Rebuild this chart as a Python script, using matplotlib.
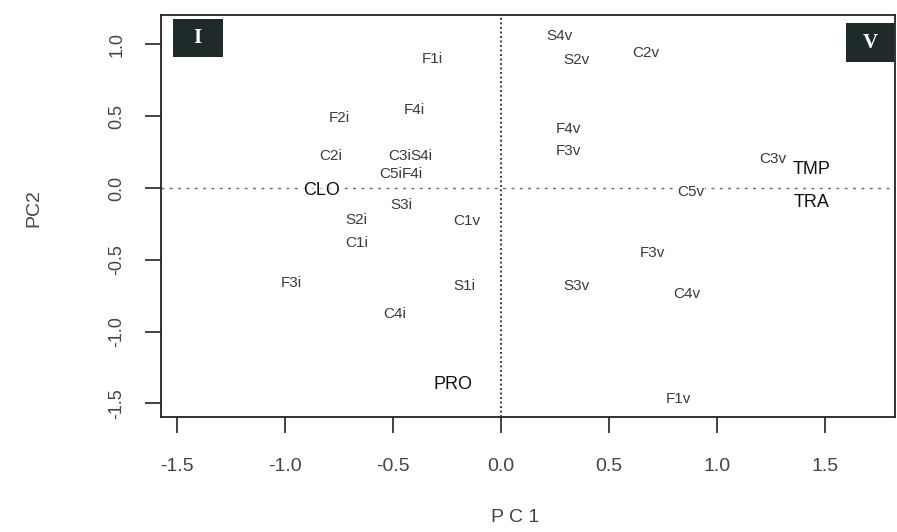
import matplotlib
matplotlib.use("Agg")
import matplotlib.pyplot as plt
from matplotlib.patches import Rectangle

plt.rcParams["font.family"] = ["Liberation Sans", "DejaVu Sans"]

# sample scores (small grey labels)
obs_names = ["F1i", "F2i", "F4i", "C2i", "C3i", "S4i", "C5i", "F4i", "S3i",
             "S2i", "C1i", "C1v", "F3i", "S1i", "C4i",
             "S4v", "S2v", "C2v", "F4v", "F3v", "C3v", "C5v",
             "F3v", "S3v", "C4v", "F1v"]
obs_pc1 = [-0.32, -0.75, -0.40, -0.79, -0.47, -0.37, -0.51, -0.41, -0.46,
           -0.67, -0.67, -0.16, -0.97, -0.17, -0.49,
           0.27, 0.35, 0.67, 0.31, 0.31, 1.26, 0.88,
           0.70, 0.35, 0.86, 0.82]
obs_pc2 = [0.90, 0.49, 0.54, 0.22, 0.22, 0.22, 0.10, 0.10, -0.12,
           -0.22, -0.38, -0.23, -0.66, -0.68, -0.88,
           1.06, 0.89, 0.94, 0.41, 0.26, 0.20, -0.03,
           -0.45, -0.68, -0.74, -1.47]

# variable loadings (bigger black labels)
var_names = ["CLO", "TMP", "TRA", "PRO"]
var_pc1 = [-0.83, 1.44, 1.44, -0.22]
var_pc2 = [-0.02, 0.13, -0.10, -1.37]

xticks = [-1.5, -1.0, -0.5, 0.0, 0.5, 1.0, 1.5]
yticks = [-1.5, -1.0, -0.5, 0.0, 0.5, 1.0]

fig = plt.figure(figsize=(8.97, 5.32), dpi=100)
ax = fig.add_axes([161 / 897, 1 - 417 / 532, (895 - 161) / 897, (417 - 15) / 532])

ax.axhline(0, color="#666666", lw=1.0, ls=(0, (2, 4)), zorder=1)
ax.axvline(0, color="#222222", lw=1.3, ls=(0, (1, 1.5)), zorder=1)

for name, x, y in zip(obs_names, obs_pc1, obs_pc2):
    ax.text(x, y, name, ha="center", va="center", fontsize=11, color="#3a3a3a",
            bbox=dict(fc="white", ec="none", pad=0.3, alpha=0.85), zorder=3)

for name, x, y in zip(var_names, var_pc1, var_pc2):
    ax.text(x, y, name, ha="center", va="center", fontsize=13, color="#111111",
            bbox=dict(fc="white", ec="none", pad=0.3, alpha=0.6), zorder=4)

# quadrant tags: dark boxes with white serif numerals
for tag, bx, by, bw, bh in [("I", 0.016, 0.896, 0.068, 0.095),
                            ("V", 0.933, 0.883, 0.066, 0.097)]:
    ax.add_patch(Rectangle((bx, by), bw, bh, transform=ax.transAxes,
                           fc="#1f2a2a", ec="none", zorder=5))
    ax.text(bx + bw / 2, by + bh / 2, tag, transform=ax.transAxes,
            ha="center", va="center", fontsize=15, fontweight="bold",
            family="Liberation Serif", color="white", zorder=6)

ax.set_xlim(-1.574, 1.824)
ax.set_ylim(-1.595, 1.205)
ax.set_xticks(xticks)
ax.set_yticks(yticks)
ax.set_xticklabels([f"{v:.1f}" for v in xticks], fontsize=14, color="#444444")
ax.set_yticklabels([f"{v:.1f}" for v in yticks], fontsize=13, color="#444444",
                   rotation=90, va="center")
ax.tick_params(direction="out", length=11.5, width=1.2, color="#222222")
ax.tick_params(axis="x", pad=18)
ax.tick_params(axis="y", pad=14)

for s in ax.spines.values():
    s.set_linewidth(1.3)
    s.set_color("#222222")

ax.set_xlabel("P C 1", fontsize=14, color="#444444")
ax.set_ylabel("PC2", fontsize=14, color="#444444")
ax.xaxis.set_label_coords(0.482, -0.228)
ax.yaxis.set_label_coords(-0.161, 0.52)

fig.savefig("out.png", dpi=100)
